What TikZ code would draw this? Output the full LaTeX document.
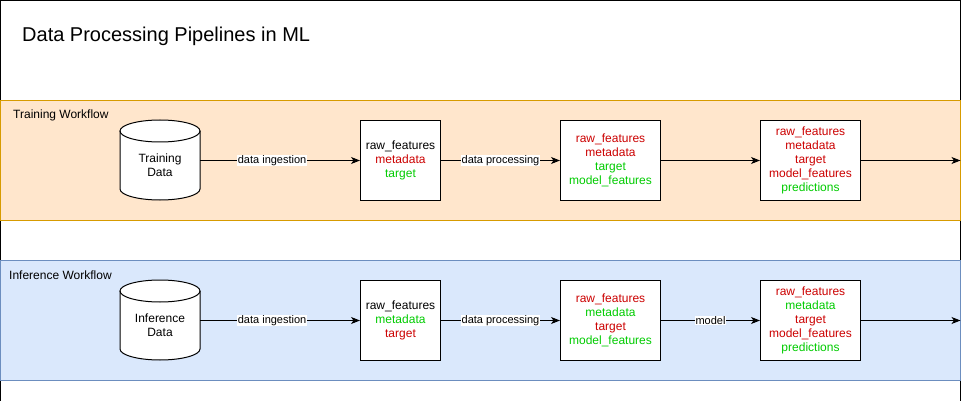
\documentclass[tikz,border=0pt]{standalone}
\usepackage{fontspec}
\setmainfont{Liberation Sans}
\usetikzlibrary{arrows.meta}
\definecolor{rd}{HTML}{CC0000}
\definecolor{gn}{HTML}{00CC00}
\definecolor{orfill}{HTML}{FFE6CC}
\definecolor{orline}{HTML}{D79B00}
\definecolor{blfill}{HTML}{DAE8FC}
\definecolor{blline}{HTML}{6C8EBF}
\tikzset{
  every picture/.style={x=1pt,y=-1pt},
  stagebox/.style={draw=black,fill=white,line width=1pt,align=center,inner sep=0pt,
     font=\fontsize{12}{14.2}\selectfont},
  flow/.style={line width=1pt,-{Stealth[length=9pt,width=7pt,inset=2.5pt]}},
  elabel/.style={fill=white,inner sep=0.5pt,font=\fontsize{11}{13}\selectfont,text=black},
  bandlabel/.style={anchor=west,inner sep=0pt,font=\fontsize{12}{14}\selectfont},
  cyltext/.style={align=center,inner sep=0pt,font=\fontsize{12}{14}\selectfont}
}
\newcommand{\cylshape}[3]{% x-left, y-top, name
  \fill[white] (#1,#2+11) arc[start angle=180,end angle=0,x radius=40,y radius=-11]
     -- (#1+80,#2+69) arc[start angle=0,end angle=-180,x radius=40,y radius=-11] -- cycle;
  \draw[line width=1pt] (#1,#2+11) -- (#1,#2+69) arc[start angle=180,end angle=360,x radius=40,y radius=-11]
     -- (#1+80,#2+11);
  \draw[line width=1pt] (#1+40,#2+11) ellipse[x radius=40,y radius=11];
  \node[minimum width=80pt,minimum height=80pt,inner sep=0pt] (#3) at (#1+40,#2+40) {};
}
\begin{document}
\begin{tikzpicture}
\useasboundingbox (0,0) rectangle (969,401);
\draw[line width=1pt] (0.5,0.5) rectangle (960.5,405);
\node[anchor=west,inner sep=0pt,font=\fontsize{20}{22}\selectfont] (title) at (22,36) {Data Processing Pipelines in ML};
% bands
\draw[fill=orfill,draw=orline,line width=1pt] (0.5,100.5) rectangle (960.5,220);
\draw[fill=blfill,draw=blline,line width=1pt] (0.5,260.5) rectangle (960.5,380);
\node[bandlabel] (tw) at (13,115) {Training Workflow};
\node[bandlabel] (iw) at (9,275) {Inference Workflow};
% training row
\cylshape{120}{120}{tcyl}
\node[cyltext] (tcyltext) at (160,165) {Training\\Data};
\node[stagebox,minimum width=80pt,minimum height=80pt] (t1) at (400.5,160.5) {raw\_features\\\textcolor{rd}{metadata}\\\textcolor{gn}{target}};
\node[stagebox,minimum width=100pt,minimum height=80pt] (t2) at (610.5,160.5) {\textcolor{rd}{raw\_features}\\\textcolor{rd}{metadata}\\\textcolor{gn}{target}\\\textcolor{gn}{model\_features}};
\node[stagebox,minimum width=100pt,minimum height=80pt] (t3) at (810.5,160.5) {\textcolor{rd}{raw\_features}\\\textcolor{rd}{metadata}\\\textcolor{rd}{target}\\\textcolor{rd}{model\_features}\\\textcolor{gn}{predictions}};
\coordinate (tend) at (960.5,160.5);
\draw[flow] (tcyl.east |- t1.west) -- node[elabel,pos=0.45] {data ingestion} (t1.west);
\draw[flow] (t1.east) -- node[elabel] {data processing} (t2.west);
\draw[flow] (t2.east) -- (t3.west);
\draw[flow] (t3.east) -- (tend);
% inference row
\cylshape{120}{280}{icyl}
\node[cyltext] (icyltext) at (160,325) {Inference\\Data};
\node[stagebox,minimum width=80pt,minimum height=80pt] (i1) at (400.5,320.5) {raw\_features\\\textcolor{gn}{metadata}\\\textcolor{rd}{target}};
\node[stagebox,minimum width=100pt,minimum height=80pt] (i2) at (610.5,320.5) {\textcolor{rd}{raw\_features}\\\textcolor{gn}{metadata}\\\textcolor{rd}{target}\\\textcolor{gn}{model\_features}};
\node[stagebox,minimum width=100pt,minimum height=80pt] (i3) at (810.5,320.5) {\textcolor{rd}{raw\_features}\\\textcolor{gn}{metadata}\\\textcolor{rd}{target}\\\textcolor{rd}{model\_features}\\\textcolor{gn}{predictions}};
\coordinate (iend) at (960.5,320.5);
\draw[flow] (icyl.east |- i1.west) -- node[elabel,pos=0.45] {data ingestion} (i1.west);
\draw[flow] (i1.east) -- node[elabel] {data processing} (i2.west);
\draw[flow] (i2.east) -- node[elabel] {model} (i3.west);
\draw[flow] (i3.east) -- (iend);
\end{tikzpicture}
\end{document}
